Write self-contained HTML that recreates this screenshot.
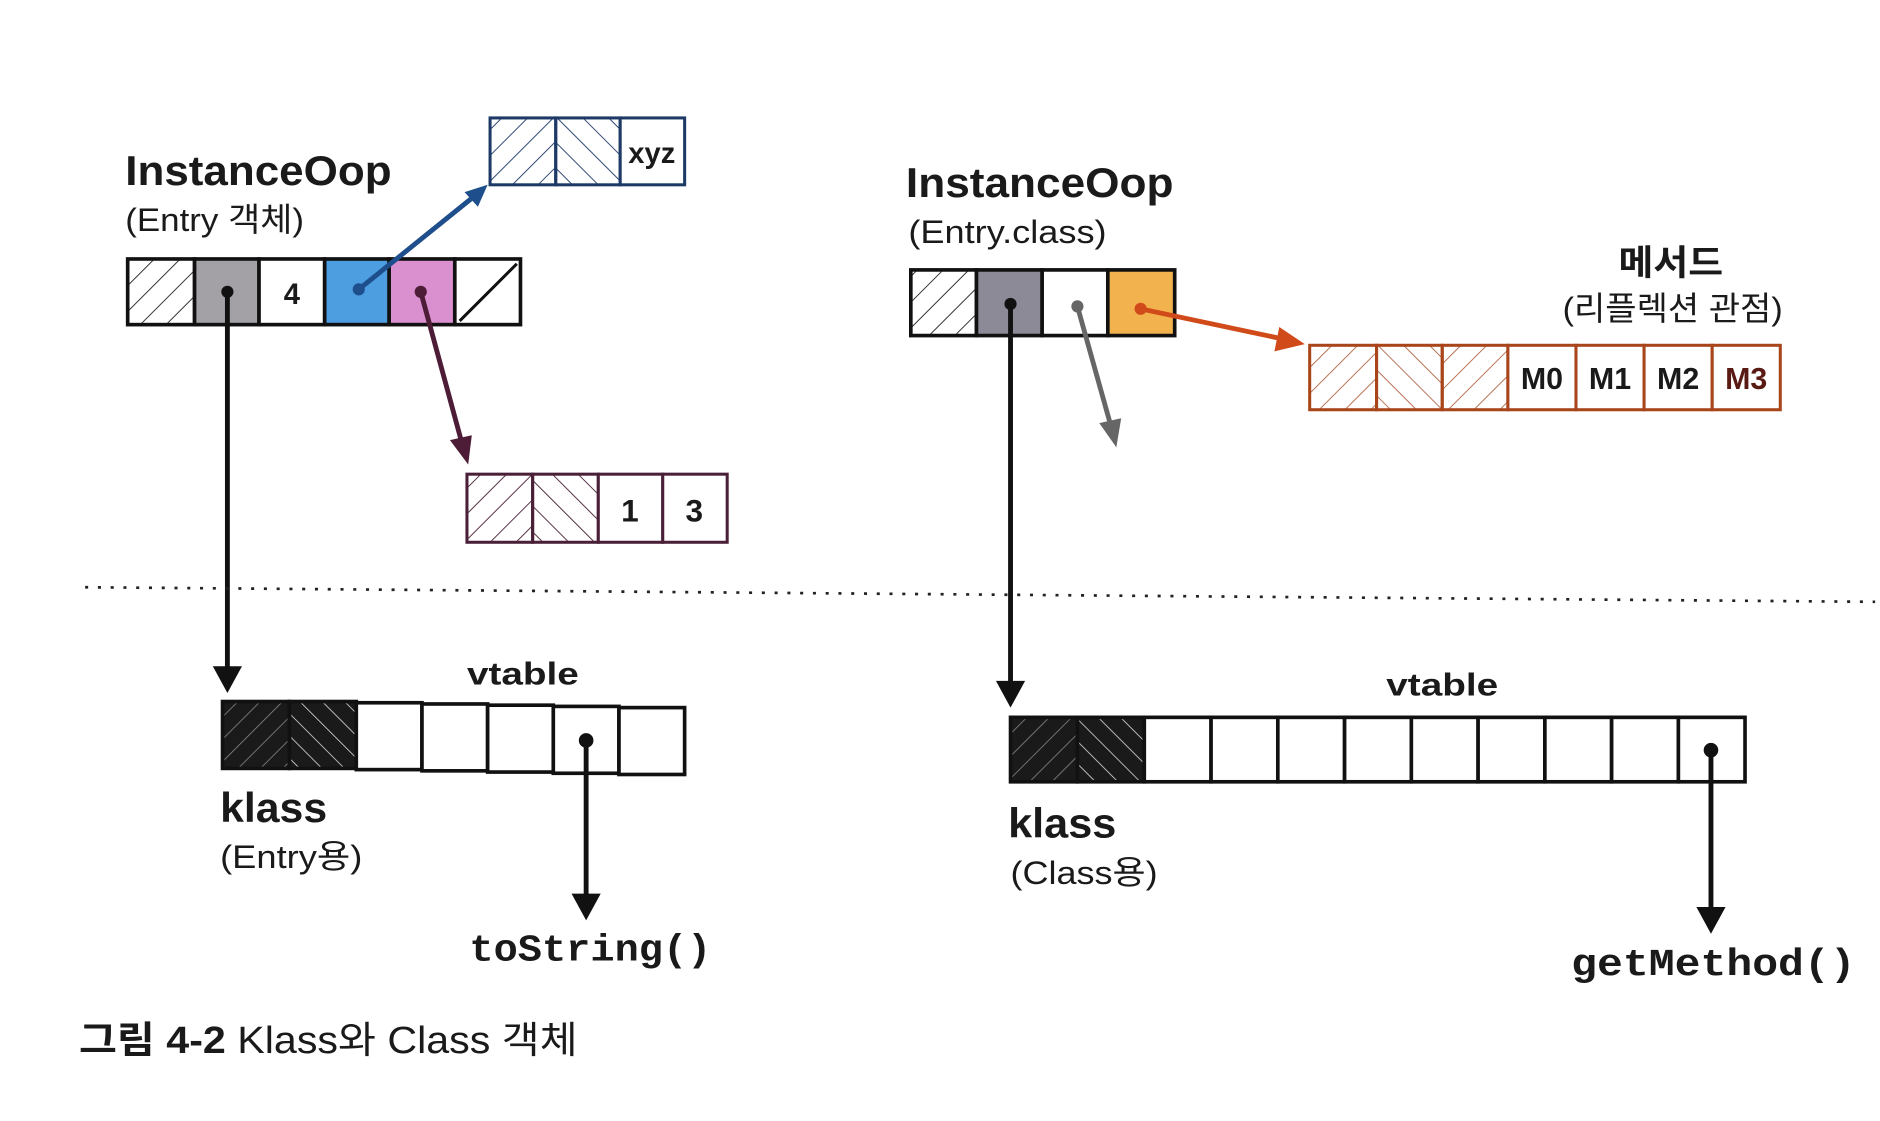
<!DOCTYPE html>
<html><head><meta charset="utf-8"><style>
html,body{margin:0;padding:0;background:#fff;}
svg{display:block;}
text{font-family:"Liberation Sans","Noto Sans CJK KR",sans-serif;fill:#1a1a1a;}
.mono{font-family:"Liberation Mono",monospace;font-weight:bold;}
</style></head><body>
<svg width="1880" height="1121" viewBox="0 0 1546 922" preserveAspectRatio="none" xmlns="http://www.w3.org/2000/svg">
<defs>
<pattern id="hf" width="15" height="15" patternUnits="userSpaceOnUse" patternTransform="rotate(45)"><line x1="0" y1="0" x2="0" y2="15" stroke="#222" stroke-width="1.5"/></pattern>
<pattern id="hb" width="15" height="15" patternUnits="userSpaceOnUse" patternTransform="rotate(-45)"><line x1="0" y1="0" x2="0" y2="15" stroke="#222" stroke-width="1.5"/></pattern>
<pattern id="hfn" width="15" height="15" patternUnits="userSpaceOnUse" patternTransform="rotate(45)"><line x1="0" y1="0" x2="0" y2="15" stroke="#1d3a66" stroke-width="1.5"/></pattern>
<pattern id="hbn" width="15" height="15" patternUnits="userSpaceOnUse" patternTransform="rotate(-45)"><line x1="0" y1="0" x2="0" y2="15" stroke="#1d3a66" stroke-width="1.5"/></pattern>
<pattern id="hfm" width="15" height="15" patternUnits="userSpaceOnUse" patternTransform="rotate(45)"><line x1="0" y1="0" x2="0" y2="15" stroke="#4a2038" stroke-width="1.5"/></pattern>
<pattern id="hbm" width="15" height="15" patternUnits="userSpaceOnUse" patternTransform="rotate(-45)"><line x1="0" y1="0" x2="0" y2="15" stroke="#4a2038" stroke-width="1.5"/></pattern>
<pattern id="hfo" width="15" height="15" patternUnits="userSpaceOnUse" patternTransform="rotate(45)"><line x1="0" y1="0" x2="0" y2="15" stroke="#a8502a" stroke-width="1.3"/></pattern>
<pattern id="hbo" width="15" height="15" patternUnits="userSpaceOnUse" patternTransform="rotate(-45)"><line x1="0" y1="0" x2="0" y2="15" stroke="#a8502a" stroke-width="1.3"/></pattern>
<pattern id="dkf" width="13" height="13" patternUnits="userSpaceOnUse" patternTransform="rotate(45)"><rect width="13" height="13" fill="#1a1a1a"/><line x1="0" y1="0" x2="0" y2="13" stroke="#888" stroke-width="1.3"/></pattern>
<pattern id="dkb" width="13" height="13" patternUnits="userSpaceOnUse" patternTransform="rotate(-45)"><rect width="13" height="13" fill="#1a1a1a"/><line x1="0" y1="0" x2="0" y2="13" stroke="#ddd" stroke-width="1.3"/></pattern>
</defs>

<!-- Left InstanceOop -->
<text x="103" y="152" font-size="34" font-weight="bold" textLength="219" lengthAdjust="spacingAndGlyphs">InstanceOop</text>
<text x="103" y="190" font-size="27" textLength="147" lengthAdjust="spacingAndGlyphs">(Entry 객체)</text>
<g stroke="#111" stroke-width="3">
<rect x="105" y="213" width="55" height="54" fill="url(#hf)"/>
<rect x="160" y="213" width="53" height="54" fill="#a3a1a6"/>
<rect x="213" y="213" width="54" height="54" fill="#fff"/>
<rect x="267" y="213" width="53" height="54" fill="#4c9ee0"/>
<rect x="320" y="213" width="54" height="54" fill="#da8fce"/>
<rect x="374" y="213" width="54" height="54" fill="#fff"/>
<line x1="378" y1="264" x2="425" y2="217" stroke-width="2.5"/>
</g>
<text x="240" y="250" font-size="24" font-weight="bold" text-anchor="middle">4</text>

<!-- xyz box -->
<g stroke="#1d3a66" stroke-width="2.5">
<rect x="403" y="97" width="54" height="55" fill="url(#hfn)"/>
<rect x="457" y="97" width="53" height="55" fill="url(#hbn)"/>
<rect x="510" y="97" width="53" height="55" fill="#fff"/>
</g>
<text x="536" y="134" font-size="24" font-weight="bold" text-anchor="middle">xyz</text>

<!-- 1 3 box -->
<g stroke="#4a2038" stroke-width="2.5">
<rect x="384" y="390" width="54" height="56" fill="url(#hfm)"/>
<rect x="438" y="390" width="54" height="56" fill="url(#hbm)"/>
<rect x="492" y="390" width="53" height="56" fill="#fff"/>
<rect x="545" y="390" width="53" height="56" fill="#fff"/>
</g>
<text x="518" y="429" font-size="26" font-weight="bold" text-anchor="middle">1</text>
<text x="571" y="429" font-size="26" font-weight="bold" text-anchor="middle">3</text>

<!-- arrows left -->
<line x1="295" y1="238" x2="388" y2="163" stroke="#1f4e8c" stroke-width="4"/>
<polygon points="401,152 382,158 393,170" fill="#1f4e8c"/>
<circle cx="295" cy="238" r="5" fill="#1f4e8c"/>
<line x1="346" y1="240" x2="380" y2="365" stroke="#4d1c36" stroke-width="4"/>
<polygon points="385,382 370,362 388,358" fill="#4d1c36"/>
<circle cx="346" cy="240" r="5" fill="#4d1c36"/>
<line x1="187" y1="240" x2="187" y2="555" stroke="#111" stroke-width="4"/>
<polygon points="175,548 199,548 187,570" fill="#111"/>
<circle cx="187" cy="240" r="5" fill="#111"/>

<!-- dotted line -->
<line x1="70" y1="483" x2="1542" y2="495" stroke="#222" stroke-width="2.2" stroke-dasharray="2.5,8"/>

<!-- Left klass -->
<text x="384" y="563" font-size="26" font-weight="bold" textLength="92" lengthAdjust="spacingAndGlyphs">vtable</text>
<g stroke="#111" stroke-width="3">
<rect x="183" y="577" width="55" height="55" fill="url(#dkf)"/>
<rect x="238" y="577" width="55" height="55" fill="url(#dkb)"/>
<rect x="293" y="578" width="54" height="55" fill="#fff"/>
<rect x="347" y="579" width="54" height="55" fill="#fff"/>
<rect x="401" y="580" width="54" height="55" fill="#fff"/>
<rect x="455" y="581" width="54" height="55" fill="#fff"/>
<rect x="509" y="582" width="54" height="55" fill="#fff"/>
</g>
<line x1="482" y1="609" x2="482" y2="740" stroke="#111" stroke-width="4"/>
<polygon points="470,735 494,735 482,757" fill="#111"/>
<circle cx="482" cy="609" r="6" fill="#111"/>
<text x="181" y="676" font-size="34" font-weight="bold" textLength="88" lengthAdjust="spacingAndGlyphs">klass</text>
<text x="181" y="714" font-size="27" textLength="117" lengthAdjust="spacingAndGlyphs">(Entry용)</text>
<text x="386" y="790" font-size="31" class="mono" textLength="199" lengthAdjust="spacingAndGlyphs">toString()</text>

<!-- Right InstanceOop -->
<text x="745" y="162" font-size="34" font-weight="bold" textLength="220" lengthAdjust="spacingAndGlyphs">InstanceOop</text>
<text x="747" y="200" font-size="27" textLength="163" lengthAdjust="spacingAndGlyphs">(Entry.class)</text>
<g stroke="#111" stroke-width="3">
<rect x="749" y="222" width="54" height="54" fill="url(#hf)"/>
<rect x="803" y="222" width="54" height="54" fill="#8b8a96"/>
<rect x="857" y="222" width="54" height="54" fill="#fff"/>
<rect x="911" y="222" width="55" height="54" fill="#f2b34f"/>
</g>
<line x1="831" y1="250" x2="831" y2="565" stroke="#111" stroke-width="4"/>
<polygon points="819,560 843,560 831,582" fill="#111"/>
<circle cx="831" cy="250" r="5" fill="#111"/>
<line x1="886" y1="252" x2="914" y2="352" stroke="#666" stroke-width="4"/>
<polygon points="918,368 904,348 922,344" fill="#666"/>
<circle cx="886" cy="252" r="5" fill="#666"/>
<line x1="938" y1="254" x2="1056" y2="279" stroke="#d04a1a" stroke-width="4"/>
<polygon points="1073,283 1052,269 1048,289" fill="#d04a1a"/>
<circle cx="938" cy="254" r="5" fill="#d04a1a"/>

<!-- methods -->
<text x="1331" y="226" font-size="29" font-weight="bold" textLength="86" lengthAdjust="spacingAndGlyphs">메서드</text>
<text x="1285" y="263" font-size="27" textLength="181" lengthAdjust="spacingAndGlyphs">(리플렉션 관점)</text>
<g stroke="#a8451a" stroke-width="2.5">
<rect x="1077" y="284" width="55" height="53" fill="url(#hfo)"/>
<rect x="1132" y="284" width="54" height="53" fill="url(#hbo)"/>
<rect x="1186" y="284" width="54" height="53" fill="url(#hfo)"/>
<rect x="1240" y="284" width="56" height="53" fill="#fff"/>
<rect x="1296" y="284" width="56" height="53" fill="#fff"/>
<rect x="1352" y="284" width="56" height="53" fill="#fff"/>
<rect x="1408" y="284" width="56" height="53" fill="#fff"/>
</g>
<text x="1268" y="320" font-size="25" font-weight="bold" text-anchor="middle">M0</text>
<text x="1324" y="320" font-size="25" font-weight="bold" text-anchor="middle">M1</text>
<text x="1380" y="320" font-size="25" font-weight="bold" text-anchor="middle">M2</text>
<text x="1436" y="320" font-size="25" font-weight="bold" text-anchor="middle" style="fill:#5a1a14">M3</text>

<!-- Right klass -->
<text x="1140" y="572" font-size="26" font-weight="bold" textLength="92" lengthAdjust="spacingAndGlyphs">vtable</text>
<g stroke="#111" stroke-width="3">
<rect x="831" y="590" width="55" height="53" fill="url(#dkf)"/>
<rect x="886" y="590" width="55" height="53" fill="url(#dkb)"/>
<rect x="941" y="590" width="54.9" height="53" fill="#fff"/>
<rect x="995.9" y="590" width="54.9" height="53" fill="#fff"/>
<rect x="1050.8" y="590" width="54.9" height="53" fill="#fff"/>
<rect x="1105.7" y="590" width="54.9" height="53" fill="#fff"/>
<rect x="1160.6" y="590" width="54.9" height="53" fill="#fff"/>
<rect x="1215.5" y="590" width="54.9" height="53" fill="#fff"/>
<rect x="1270.4" y="590" width="54.9" height="53" fill="#fff"/>
<rect x="1325.3" y="590" width="54.9" height="53" fill="#fff"/>
<rect x="1380.2" y="590" width="54.8" height="53" fill="#fff"/>
</g>
<line x1="1407" y1="617" x2="1407" y2="752" stroke="#111" stroke-width="4"/>
<polygon points="1395,746 1419,746 1407,768" fill="#111"/>
<circle cx="1407" cy="617" r="6" fill="#111"/>
<text x="829" y="689" font-size="34" font-weight="bold" textLength="89" lengthAdjust="spacingAndGlyphs">klass</text>
<text x="831" y="727" font-size="27" textLength="121" lengthAdjust="spacingAndGlyphs">(Class용)</text>
<text x="1292" y="802" font-size="31" class="mono" textLength="234" lengthAdjust="spacingAndGlyphs">getMethod()</text>

<!-- caption -->
<text x="65" y="866" font-size="31" textLength="410" lengthAdjust="spacingAndGlyphs"><tspan font-weight="bold">그림 4-2</tspan> Klass와 Class 객체</text>
</svg>
</body></html>
